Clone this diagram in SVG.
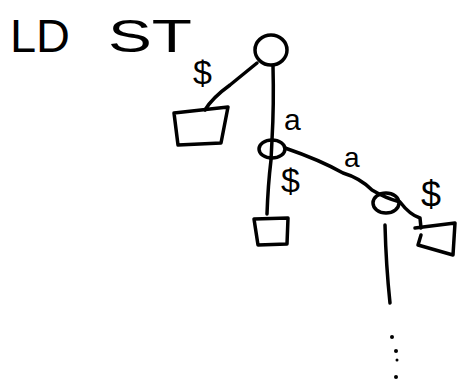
<svg xmlns="http://www.w3.org/2000/svg" width="461" height="382" viewBox="0 0 461 382">
<style>
.s{fill:none;stroke:#000;stroke-width:3.5;stroke-linecap:round;stroke-linejoin:round}
.t{font-family:"Liberation Sans","DejaVu Sans",sans-serif;fill:#000}
.d{fill:#000}
</style>
<rect width="461" height="382" fill="#fff"/>
<text class="t" font-size="46"><tspan x="10" y="52" textLength="60" lengthAdjust="spacingAndGlyphs">LD</tspan><tspan x="108" y="52" textLength="84" lengthAdjust="spacingAndGlyphs">ST</tspan></text>
<g id="connectors">
<path class="s" d="M257,63 L230,85 Q212,98 205,110"/>
<path class="s" d="M273,66 Q274,105 272,140 L271,160 Q268,185 267,214"/>
<path class="s" d="M285,148 Q320,160 343,173 Q360,178 372,190 Q385,198 400,202 Q410,215 420,218 L421,228"/>
<path class="s" d="M385,225 Q386,265 390,303"/>
<circle class="d" cx="392" cy="337" r="2"/>
<circle class="d" cx="396" cy="351" r="2"/>
<circle class="d" cx="397" cy="360" r="1.5"/>
<circle class="d" cx="396" cy="377" r="2"/>
<text class="t" x="193" y="84" font-size="34">$</text>
<text class="t" x="284" y="130" font-size="30">a</text>
<text class="t" x="281" y="192" font-size="34">$</text>
<text class="t" x="344" y="167" font-size="28">a</text>
<text class="t" x="421" y="207" font-size="36">$</text>
</g>
<g id="root"><ellipse class="s" cx="271" cy="50" rx="16" ry="15"/></g>
<g id="n2"><ellipse class="s" cx="272" cy="149" rx="13" ry="9"/></g>
<g id="n3"><ellipse class="s" cx="386" cy="203" rx="13" ry="10"/></g>
<g id="leaf1"><path class="s" d="M174,113 L228,107 L221,143 L178,145 Z"/></g>
<g id="leaf2"><path class="s" d="M254,219 L288,218 L287,244 L258,245 Z"/></g>
<g id="leaf3"><path class="s" d="M415,228 L455,223 L453,255 L418,245 L421,235"/></g>
</svg>
